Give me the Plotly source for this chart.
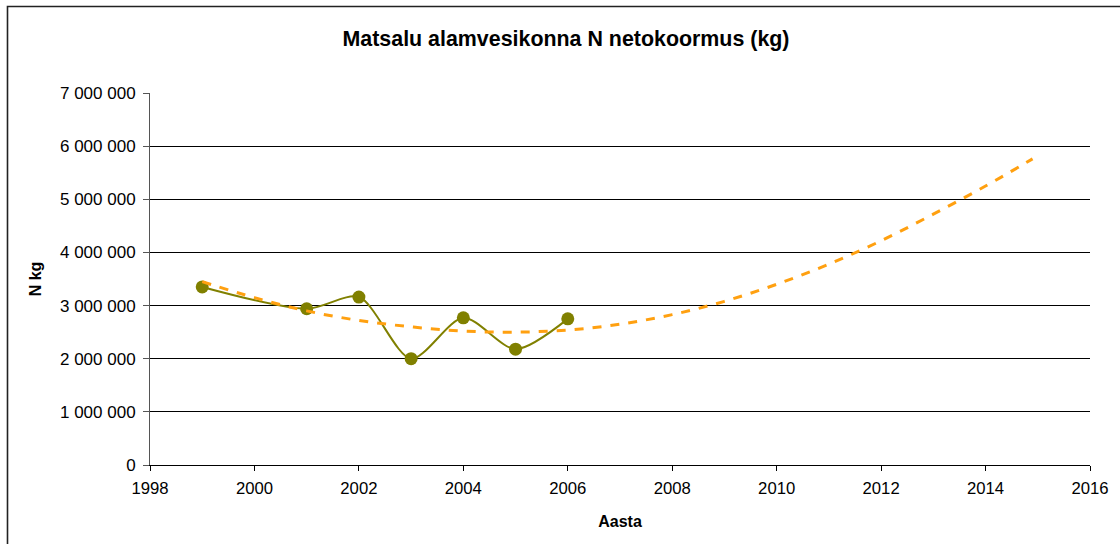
import plotly.graph_objects as go

years = [1999, 2001, 2002, 2003, 2004, 2005, 2006]
n_load = [3350000, 2940000, 3160000, 2000000, 2770000, 2180000, 2750000]

trend_years = [1999, 2000, 2001, 2002, 2003, 2004, 2005, 2006, 2007, 2008,
               2009, 2010, 2011, 2012, 2013, 2014, 2014.9]
trend_vals = [3450000, 3150000, 2900000, 2720000, 2600000, 2520000, 2500000,
              2540000, 2650000, 2830000, 3080000, 3400000, 3780000, 4220000,
              4720000, 5250000, 5760000]

x_ticks = [1998, 2000, 2002, 2004, 2006, 2008, 2010, 2012, 2014, 2016]
y_ticks = [0, 1000000, 2000000, 3000000, 4000000, 5000000, 6000000, 7000000]

FONT = "Liberation Sans, Arial, sans-serif"

fig = go.Figure()
fig.add_trace(go.Scatter(
    x=years, y=n_load, mode="lines+markers",
    line=dict(color="#808000", width=2, shape="spline", smoothing=0.8),
    marker=dict(color="#808000", size=13),
    showlegend=False,
))
fig.add_trace(go.Scatter(
    x=trend_years, y=trend_vals, mode="lines",
    line=dict(color="#FFA010", width=3, dash="dash", shape="spline"),
    showlegend=False,
))

L, R, T, B = 150, 30, 93, 79
W, H = 1120, 544
pw, ph = W - L - R, H - T - B

fig.update_layout(
    width=W, height=H,
    margin=dict(l=L, r=R, t=T, b=B),
    paper_bgcolor="white", plot_bgcolor="white",
    font=dict(family=FONT, size=17, color="black"),
    separators=". ",
    title=dict(text="<b>Matsalu alamvesikonna N netokoormus (kg)</b>",
               x=566 / W, xref="container", xanchor="center", y=1 - 39 / H, yanchor="middle",
               font=dict(size=21.4, family=FONT, color="black")),
    xaxis=dict(range=[1998, 2016], tickvals=x_ticks, showgrid=False,
               showline=True, linecolor="black", linewidth=1,
               ticks="outside", ticklen=5, tickcolor="black",
               ticklabelstandoff=3,
               tickfont=dict(size=16.7), zeroline=False,
               title=dict(text="<b>Aasta</b>", font=dict(size=16), standoff=18)),
    yaxis=dict(range=[0, 7000000], tickvals=y_ticks, tickformat=",d",
               showgrid=True, gridcolor="black", gridwidth=1,
               showline=True, linecolor="#555555", linewidth=1,
               ticks="outside", ticklen=6, tickcolor="#555555",
               ticklabelstandoff=4,
               tickfont=dict(size=17), zeroline=False,
               title=dict(text="<b>N kg</b>", font=dict(size=16), standoff=14)),
    shapes=[dict(type="rect", xref="paper", yref="paper",
                 x0=(7.5 - L) / pw, x1=(1135 - L) / pw,
                 y0=(H - B - 570) / ph, y1=(H - B - 6.5) / ph,
                 line=dict(color="#222222", width=1.6), fillcolor="rgba(0,0,0,0)",
                 layer="below")],
)

fig.write_html("out.html", config={"displayModeBar": False},
               post_script="document.body.style.margin='0';")
